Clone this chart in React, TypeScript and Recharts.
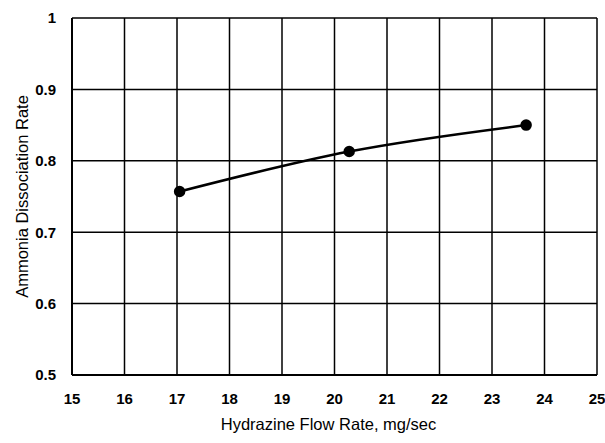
import React from "react";
import { LineChart, Line, XAxis, YAxis, CartesianGrid } from "recharts";

const flowRates = [17.05, 20.28, 23.65];
const dissociation = [0.757, 0.813, 0.85];
const xTicks = [15, 16, 17, 18, 19, 20, 21, 22, 23, 24, 25];
const yTicks = [0.5, 0.6, 0.7, 0.8, 0.9, 1];

const data = flowRates.map((x, i) => ({ x, y: dissociation[i] }));

const font = "'Liberation Sans', Arial, sans-serif";

export default function App() {
  return (
    <div
      style={{
        position: "absolute",
        left: 0,
        top: 0,
        background: "#fff",
        width: 605,
        height: 443,
        overflow: "hidden",
      }}
    >
      <LineChart
        width={620}
        height={443}
        data={data}
        margin={{ top: 18, right: 23, bottom: 8, left: 0 }}
      >
        <CartesianGrid stroke="#000" strokeWidth={1.5} />
        <XAxis
          dataKey="x"
          type="number"
          domain={[15, 25]}
          ticks={xTicks}
          tickLine={false}
          axisLine={{ stroke: "#000", strokeWidth: 2 }}
          height={60}
          tick={{ fill: "#000", fontSize: 15, fontFamily: font, fontWeight: "bold", dy: 10 }}
          label={{
            value: "Hydrazine Flow Rate, mg/sec",
            position: "insideBottom",
            offset: 5,
            dx: -6,
            style: { fill: "#000", fontSize: 16.5, fontFamily: font },
          }}
        />
        <YAxis
          type="number"
          domain={[0.5, 1]}
          ticks={yTicks}
          tickFormatter={(v: number) => String(v)}
          tickLine={false}
          axisLine={{ stroke: "#000", strokeWidth: 2 }}
          width={72}
          tick={{ fill: "#000", fontSize: 15, fontFamily: font, fontWeight: "bold", dx: -8 }}
          label={{
            value: "Ammonia Dissociation Rate",
            angle: -90,
            position: "insideLeft",
            offset: 22,
            style: { textAnchor: "middle", fill: "#000", fontSize: 16.5, fontFamily: font },
          }}
        />
        <Line
          dataKey="y"
          type="monotone"
          stroke="#000"
          strokeWidth={2.5}
          dot={{ r: 4.5, fill: "#000", stroke: "#000" }}
          isAnimationActive={false}
        />
      </LineChart>
    </div>
  );
}
